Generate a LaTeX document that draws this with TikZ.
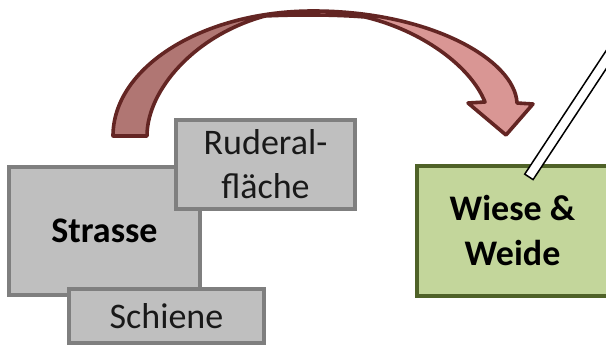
\documentclass[tikz,border=0pt]{standalone}
\usepackage{fontspec}
\setmainfont{Carlito}
\definecolor{boxfill}{HTML}{BFBFBF}
\definecolor{boxline}{HTML}{7F7F7F}
\definecolor{greenfill}{HTML}{C3D69B}
\definecolor{greenline}{HTML}{4F6228}
\definecolor{arrowlight}{HTML}{D99694}
\definecolor{arrowdark}{HTML}{B07673}
\definecolor{arrowline}{HTML}{632523}
\newcommand{\curvedarrowshape}[1]{%
  \path[#1] (113,136) .. controls (113,67) and (203,11) .. (313,11)
    .. controls (430,11) and (515,60) .. (517,103)
    -- (533,104) -- (506,135) -- (468,103) -- (485,102)
    .. controls (470,65) and (420,30) .. (365,17)
    .. controls (335,14.5) and (295,14.5) .. (265,16)
    .. controls (195,35) and (147,90) .. (147,136)
    -- cycle;}
\begin{document}
\begin{tikzpicture}[x=1pt,y=-1pt,
  graybox/.style={draw=boxline, fill=boxfill, line width=4pt, inner sep=0pt,
    align=center, font=\fontsize{36}{44}\selectfont, text=black!90},
  greenbox/.style={draw=greenline, fill=greenfill, line width=4pt, inner sep=0pt,
    align=center, font=\fontsize{36}{45}\selectfont\bfseries, text=black},
  pointerbar/.style={draw=black, fill=white, line width=1.5pt, inner sep=0pt,
    minimum height=10pt, minimum width=230pt, rotate=56.6, anchor=west}
]
\useasboundingbox (0,0) rectangle (606,347);
\clip (0,0) rectangle (606,347);

% curved arrow
\curvedarrowshape{fill=arrowlight}
\begin{scope}
  \clip (0,0) rectangle (315,200);
  \curvedarrowshape{fill=arrowdark}
\end{scope}
\curvedarrowshape{draw=arrowline, line width=3.6pt, line join=round}

% boxes
\node[graybox, minimum width=191pt, minimum height=128pt] (strasse) at (104.5,231)
  {\bfseries\color{black}Strasse};
\node[graybox, minimum width=179pt, minimum height=89pt] (ruderal) at (265.5,164.5)
  {Ruderal-\\fläche};
\node[graybox, minimum width=195pt, minimum height=54pt] (schiene) at (166.5,316)
  {Schiene};
\node[greenbox, minimum width=191pt, minimum height=130pt] (wiese) at (512.5,231)
  {Wiese \&\\Weide};

% pointer bar
\coordinate (barlow) at (528.5,177.5);
\node[pointerbar] (bar) at (barlow) {};
\end{tikzpicture}
\end{document}
